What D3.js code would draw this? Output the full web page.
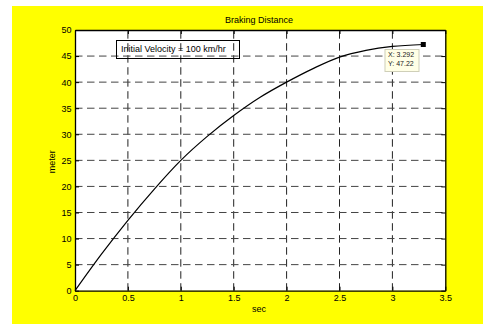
<!DOCTYPE html>
<html>
<head>
<meta charset="utf-8">
<script src="https://cdn.jsdelivr.net/npm/d3@7"></script>
<style>
  html, body { margin: 0; padding: 0; background: #ffffff; }
  svg { display: block; font-family: "Liberation Sans", Arial, sans-serif; }
</style>
</head>
<body>
<svg id="chart" width="483" height="324"></svg>
<script>
// Braking distance of a car starting at 100 km/hr
const timeSec   = [0, 0.25, 0.5, 0.75, 1.0, 1.25, 1.5, 1.75, 2.0, 2.25, 2.5, 2.75, 3.0, 3.292];
const distanceM = [0, 7.0, 13.5, 19.5, 25.0, 29.6, 33.6, 37.1, 40.0, 42.6, 44.8, 46.1, 46.85, 47.22];

const xTicks = [0, 0.5, 1, 1.5, 2, 2.5, 3, 3.5];
const yTicks = [0, 5, 10, 15, 20, 25, 30, 35, 40, 45, 50];

const titleText  = "Braking Distance";
const xLabelText = "sec";
const yLabelText = "meter";
const noteText   = "Initial Velocity = 100 km/hr";

// data cursor on the last sample
const tipX = 3.292;
const tipY = 47.22;

const svg = d3.select("#chart");

// figure background
svg.append("rect").attr("x", 12).attr("y", 6).attr("width", 471).attr("height", 318).attr("fill", "#ffff00");

const L = 75, R = 445.3, T = 30, B = 290.7;
const x = d3.scaleLinear().domain([0, 3.5]).range([L, R]);
const y = d3.scaleLinear().domain([0, 50]).range([B, T]);

// axes area
svg.append("rect").attr("x", L).attr("y", T).attr("width", R - L).attr("height", B - T).attr("fill", "#ffffff");

// dashed grid
const grid = svg.append("g").attr("stroke-width", 1).attr("stroke-dasharray", "7.5,4.5").attr("fill", "none");
grid.selectAll("line.v").data(xTicks.slice(1, -1)).join("line")
  .attr("class", "v").attr("stroke", "#222")
  .attr("x1", d => x(d)).attr("x2", d => x(d))
  .attr("y1", B).attr("y2", T);
grid.selectAll("line.h").data(yTicks.slice(1, -1)).join("line")
  .attr("class", "h").attr("stroke", "#444")
  .attr("x1", L).attr("x2", R)
  .attr("y1", d => y(d)).attr("y2", d => y(d));

// curve
const line = d3.line().x((d, i) => x(timeSec[i])).y(d => y(d)).curve(d3.curveCatmullRom);
svg.append("path").datum(distanceM)
  .attr("d", line)
  .attr("fill", "none").attr("stroke", "#000").attr("stroke-width", 1.2);

// axes with inward ticks
function styleAxis(g) {
  g.selectAll("path.domain").attr("stroke", "#000").attr("stroke-width", 1.3);
  g.selectAll(".tick line").attr("stroke", "#000").attr("stroke-width", 1);
  g.selectAll(".tick text").attr("fill", "#000").attr("font-size", 9);
}
svg.append("g").attr("transform", `translate(0,${B})`)
  .call(d3.axisBottom(x).tickValues(xTicks).tickFormat(d3.format("")).tickSizeInner(-4).tickSizeOuter(0).tickPadding(4))
  .call(styleAxis);
svg.append("g").attr("transform", `translate(0,${T})`)
  .call(d3.axisTop(x).tickValues(xTicks).tickFormat("").tickSizeInner(-4).tickSizeOuter(0))
  .call(styleAxis);
svg.append("g").attr("transform", `translate(${L},0)`)
  .call(d3.axisLeft(y).tickValues(yTicks).tickSizeInner(-4).tickSizeOuter(0).tickPadding(3.5))
  .call(styleAxis);
svg.append("g").attr("transform", `translate(${R},0)`)
  .call(d3.axisRight(y).tickValues(yTicks).tickFormat("").tickSizeInner(-4).tickSizeOuter(0))
  .call(styleAxis);
svg.selectAll("g").attr("font-family", null);

// title and axis labels
svg.append("text").attr("x", 259).attr("y", 23).attr("text-anchor", "middle")
  .attr("font-size", 9).text(titleText);
svg.append("text").attr("x", 259).attr("y", 312).attr("text-anchor", "middle")
  .attr("font-size", 9).text(xLabelText);
svg.append("text").attr("transform", "translate(55,161.7) rotate(-90)").attr("text-anchor", "middle")
  .attr("font-size", 9).text(yLabelText);

// annotation box
svg.append("rect").attr("x", 116.5).attr("y", 40.5).attr("width", 123).attr("height", 18)
  .attr("fill", "none").attr("stroke", "#000").attr("stroke-width", 1);
svg.append("text").attr("x", 121).attr("y", 52.3).attr("font-size", 9).text(noteText);

// data cursor marker and tip
svg.append("rect")
  .attr("x", x(tipX) - 2.5).attr("y", y(tipY) - 2.5).attr("width", 5).attr("height", 5)
  .attr("fill", "#000");
const tip = svg.append("g").attr("transform", `translate(${x(tipX) - 38.8},${y(tipY) + 4.5})`);
tip.append("rect").attr("x", 0.5).attr("y", 0.5).attr("width", 34).attr("height", 22)
  .attr("fill", "#ffffe6").attr("stroke", "#cfcfb8").attr("stroke-width", 1);
tip.append("text").attr("x", 3.5).attr("y", 8.5).attr("font-size", 7).attr("fill", "#222").text("X: " + tipX);
tip.append("text").attr("x", 3.5).attr("y", 17.5).attr("font-size", 7).attr("fill", "#222").text("Y: " + tipY);
</script>
</body>
</html>
